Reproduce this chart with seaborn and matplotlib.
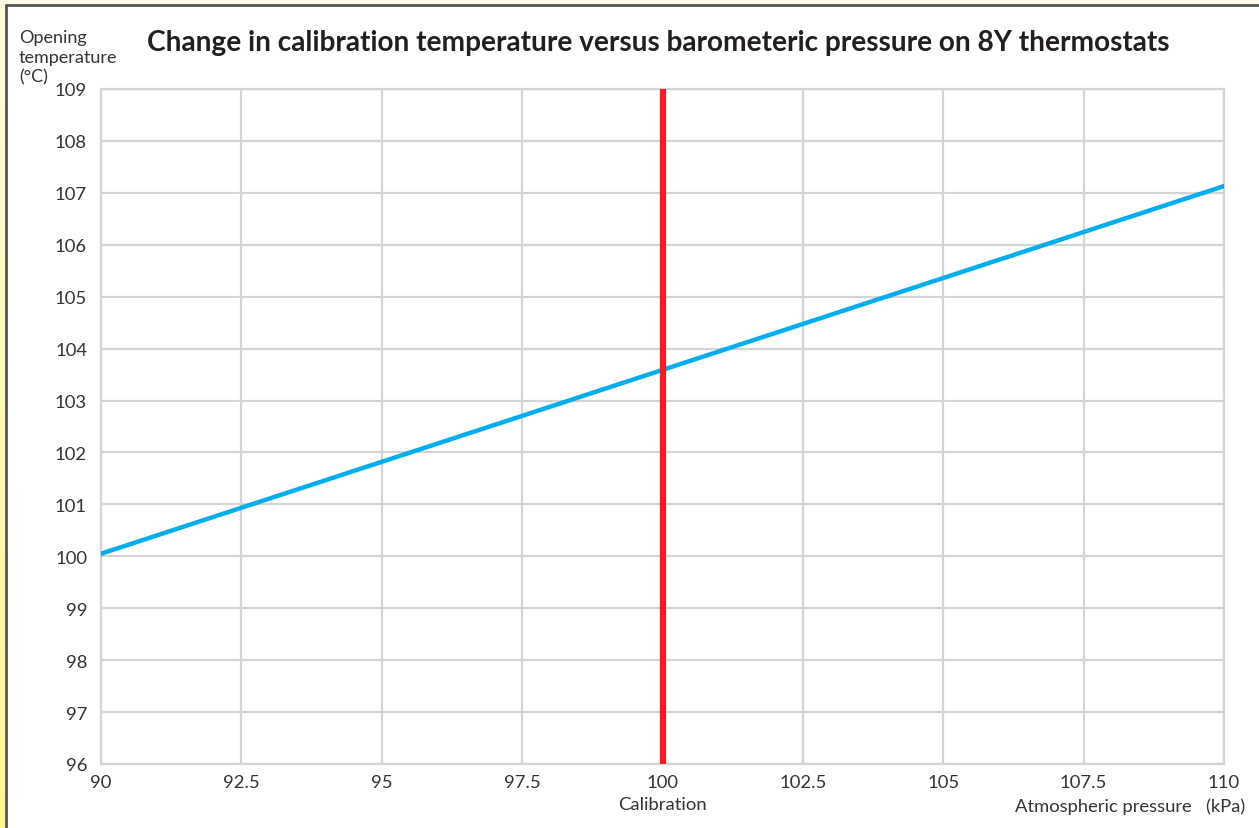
import numpy as np
import pandas as pd
import matplotlib
matplotlib.use("Agg")
import matplotlib.pyplot as plt
import seaborn as sns
from matplotlib.lines import Line2D
from matplotlib.colors import LinearSegmentedColormap

# Data
pressure_kpa = [90, 100, 110]
opening_temp_c = [100.05, 103.59, 107.13]
calibration_kpa = 100
x_ticks = [90, 92.5, 95, 97.5, 100, 102.5, 105, 107.5, 110]
x_tick_labels = ["90", "92.5", "95", "97.5", "100", "102.5", "105", "107.5", "110"]
y_ticks = list(range(96, 110))
y_label_lines = ["Opening", "temperature", "(°C)"]

title = "Change in calibration temperature versus barometeric pressure on 8Y thermostats"

sns.set_style("white")
plt.rcParams['font.family'] = ['Lato', 'DejaVu Sans']

W, H = 1259, 829
fig = plt.figure(figsize=(W / 100, H / 100), dpi=100)
fig.patch.set_facecolor("white")

# top cream strip
tax = fig.add_axes([0, 1 - 5 / H, 1, 5 / H])
tax.set_facecolor("#fffdea")
tax.set_xticks([]); tax.set_yticks([])
for s in tax.spines.values():
    s.set_visible(False)

# left yellow gradient strip
gax = fig.add_axes([0, 0, 5 / W, 1])
grad = np.linspace(0, 1, 256).reshape(-1, 1)
cmap = LinearSegmentedColormap.from_list("g", ["#fff596", "#fffbe0"])
gax.imshow(grad, aspect="auto", cmap=cmap, origin="lower", extent=[0, 1, 0, 1])
gax.axis("off")

fig.lines.append(Line2D([6 / W, 6 / W], [0, 1 - 6 / H], transform=fig.transFigure,
                        color="#555555", lw=2))
fig.lines.append(Line2D([6 / W, 1], [1 - 6 / H, 1 - 6 / H], transform=fig.transFigure,
                        color="#555555", lw=2))

ax = fig.add_axes([101 / W, 1 - 765 / H, (1224 - 101) / W, (765 - 90) / H])
ax.set_facecolor("white")

df = pd.DataFrame({"pressure": pressure_kpa, "temp": opening_temp_c})
sns.lineplot(data=df, x="pressure", y="temp", ax=ax, color="#00aeef", lw=3.2, zorder=3)
ax.axvline(calibration_kpa, color="#ee2024", lw=4.5, zorder=4)

ax.set_xlim(90, 110)
ax.set_ylim(96, 109)
ax.set_xticks(x_ticks)
ax.set_xticklabels(x_tick_labels)
ax.set_yticks(y_ticks)
ax.grid(True, color="#d4d4d4", lw=1.6, zorder=0)
ax.set_axisbelow(True)
for s in ax.spines.values():
    s.set_color("#d4d4d4")
    s.set_linewidth(1.6)
ax.tick_params(axis="both", length=0, labelsize=13.3, colors="#333333")
ax.tick_params(axis="y", pad=10)
ax.tick_params(axis="x", pad=7)
ax.set_xlabel("")
ax.set_ylabel("")

fig.text(147 / W, 1 - 43 / H, title, fontsize=20.2, fontweight="bold",
         color="#231f20", va="center", ha="left")
for i, line in enumerate(y_label_lines):
    fig.text(19 / W, 1 - (38 + 19.5 * i) / H, line, fontsize=13,
             color="#333333", va="center", ha="left")
ax.text(calibration_kpa, -0.06, "Calibration", transform=ax.get_xaxis_transform(),
        fontsize=13.3, color="#333333", ha="center", va="center")
fig.text(1245 / W, 1 - 807 / H, "Atmospheric pressure   (kPa)", fontsize=13.2,
         color="#333333", ha="right", va="center")

fig.savefig("out.png", dpi=100, facecolor=fig.get_facecolor())
